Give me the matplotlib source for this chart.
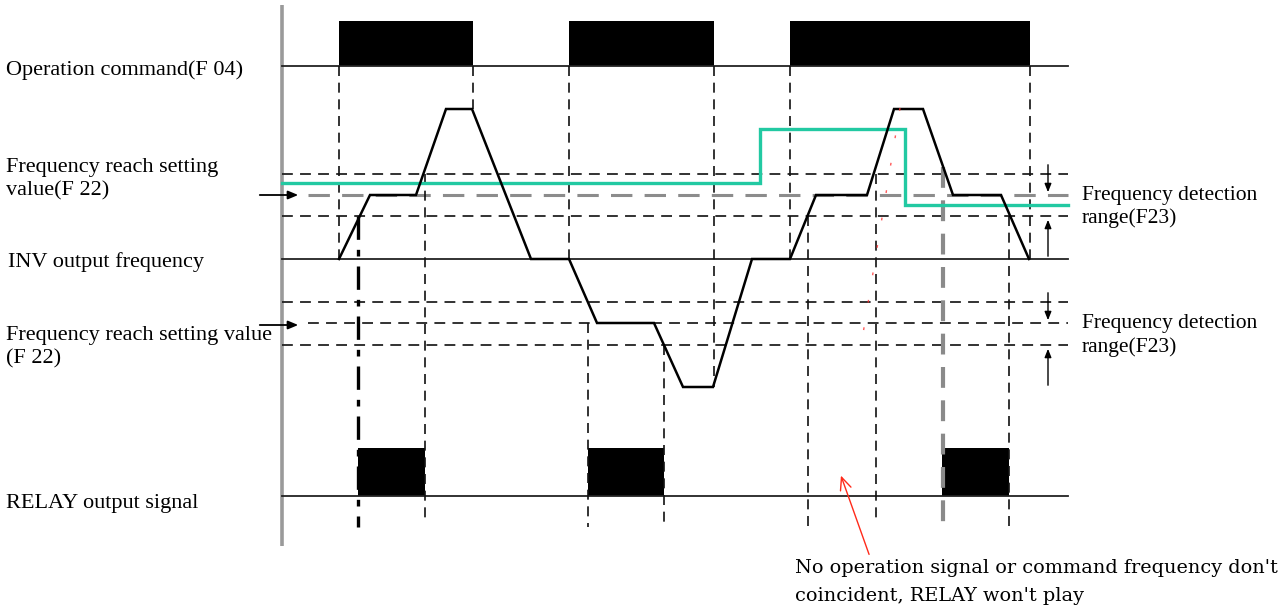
import matplotlib
matplotlib.use("Agg")
import matplotlib.pyplot as plt

# ---------------- data (diagram units: x = time position, y = vertical position) -------------
x_left, x_right = 282, 1068

# rows (baselines)
cmd_base, cmd_top = 66, 21
freq_base = 259
relay_base, relay_top = 496, 448

# detection bands (upper, setting, lower)
pos_band = [174, 195, 216]
neg_band = [302, 323, 345]

# operation command pulses (start, end)
cmd_pulses = [(339, 473), (569, 714), (790, 1030)]

# INV output frequency profile
freq_t = [339, 370, 416, 446, 472, 531, 569, 597, 654, 683, 713, 752, 790, 816, 867, 894, 923, 953, 1001, 1029]
freq_v = [259, 195, 195, 109, 109, 259, 259, 323, 323, 387, 387, 259, 259, 195, 195, 109, 109, 195, 195, 259]

# command frequency (green step line)
green_t = [282, 760, 760, 905, 905, 1068]
green_v = [183, 183, 129, 129, 205, 205]

# relay pulses
relay_pulses = [(358, 425), (588, 664), (942, 1009)]

# vertical guide lines: (x, y_top, y_bottom, style)
guides = [
    (339, 66, 259, "thin"), (473, 66, 109, "thin"), (569, 66, 259, "thin"),
    (714, 66, 387, "thin"), (790, 66, 259, "thin"), (1030, 66, 259, "thin"),
    (358, 216, 527, "thick"), (425, 174, 520, "thin"), (588, 323, 527, "thin"),
    (664, 345, 527, "thin"), (808, 216, 527, "thin"), (876, 174, 520, "thin"),
    (943, 167, 527, "gray"), (1009, 216, 527, "thin"),
]

left_labels = [
    ("Operation command(F 04)", 6, 75),
    ("Frequency reach setting", 6, 172),
    ("value(F 22)", 6, 195),
    ("INV output frequency", 8, 267),
    ("Frequency reach setting value", 6, 340),
    ("(F 22)", 6, 363),
    ("RELAY output signal", 6, 508),
]
right_labels = [
    ("Frequency detection", 1082, 200),
    ("range(F23)", 1082, 223),
    ("Frequency detection", 1082, 328),
    ("range(F23)", 1082, 352),
]
note_lines = [
    ("No operation signal or command frequency don't", 795, 573),
    ("coincident, RELAY won't play", 795, 601),
]

# ---------------- drawing ----------------
W, H = 1279, 608
fig = plt.figure(figsize=(W / 100, H / 100), dpi=100)
ax = fig.add_axes([0, 0, 1, 1])
ax.set_xlim(0, W)
ax.set_ylim(H, 0)
ax.axis("off")

font = "Liberation Serif"
dash = (0, (6, 4))

# left gray axis
ax.plot([282, 282], [5, 546], color="#9a9a9a", lw=2.6, solid_capstyle="butt")

# baselines
for yb in (cmd_base, freq_base, relay_base):
    ax.plot([x_left, x_right], [yb, yb], color="#222222", lw=1.3)

# detection band dashed lines
for band in (pos_band, neg_band):
    ax.plot([x_left, x_right], [band[0], band[0]], color="#222222", lw=1.3, ls=dash)
    ax.plot([x_left, x_right], [band[2], band[2]], color="#222222", lw=1.3, ls=dash)
ax.plot([308, x_right], [pos_band[1], pos_band[1]], color="#8c8c8c", lw=2.2, ls=(0, (7, 4)))
ax.plot([308, x_right], [neg_band[1], neg_band[1]], color="#222222", lw=1.3, ls=dash)

# vertical guides
for gx, y0, y1, st in guides:
    if st == "thick":
        ax.plot([gx, gx], [y0, y1], color="black", lw=2.4, ls=(0, (7, 3, 2, 3)))
    elif st == "gray":
        ax.plot([gx, gx], [y0, y1], color="#8a8a8a", lw=3.0, ls=(0, (5, 3)))
    else:
        ax.plot([gx, gx], [y0, y1], color="#111111", lw=1.2, ls=dash)

# command pulses
for s, e in cmd_pulses:
    ax.fill_between([s, e], [cmd_top, cmd_top], [cmd_base, cmd_base], color="black", lw=0)

# relay pulses
for s, e in relay_pulses:
    ax.fill_between([s, e], [relay_top, relay_top], [relay_base, relay_base], color="black", lw=0)

# green command frequency
ax.plot(green_t, green_v, color="#22c9a2", lw=2.4, solid_joinstyle="miter")

# frequency profile
ax.plot(freq_t, freq_v, color="black", lw=1.8, solid_joinstyle="miter")

# faint red dashes (trace)
ax.plot([900, 861], [108, 346], color="#ff3030", lw=1.0, ls=(0, (2, 18)), alpha=0.8)

# setting-value arrows at left
for yy in (pos_band[1], neg_band[1] + 2):
    ax.annotate("", xy=(301, yy), xytext=(257, yy),
                arrowprops=dict(arrowstyle="-|>,head_length=0.6,head_width=0.25", color="black", lw=1.3))

# detection range arrows at right
for band, ybase in ((pos_band, freq_base), (neg_band, 388)):
    ax.annotate("", xy=(1048, band[1]), xytext=(1048, band[0] - 12),
                arrowprops=dict(arrowstyle="-|>,head_length=0.5,head_width=0.2", color="black", lw=1.0))
    ax.annotate("", xy=(1048, band[2] + 1), xytext=(1048, ybase),
                arrowprops=dict(arrowstyle="-|>,head_length=0.5,head_width=0.2", color="black", lw=1.0))

# red note arrow
ax.annotate("", xy=(840, 473), xytext=(870, 557),
            arrowprops=dict(arrowstyle="->,head_length=0.9,head_width=0.4", color="#ff2a1a", lw=1.0))

for txt, x, y in left_labels:
    ax.text(x, y, txt, fontsize=16, family=font, va="baseline", ha="left", color="black")
for txt, x, y in right_labels:
    ax.text(x, y, txt, fontsize=15.5, family=font, va="baseline", ha="left", color="black")
for txt, x, y in note_lines:
    ax.text(x, y, txt, fontsize=13.9, family="DejaVu Serif", va="baseline", ha="left", color="black")

fig.savefig("out.png", dpi=100)
